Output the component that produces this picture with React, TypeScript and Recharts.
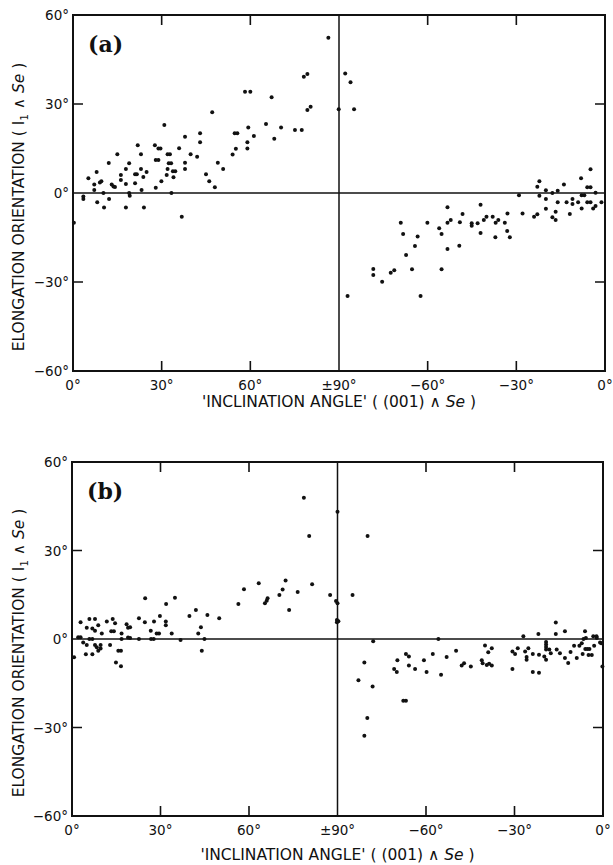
import React from 'react';
import { ScatterChart, Scatter, XAxis, YAxis, ReferenceLine, ReferenceArea } from 'recharts';

// [inclination angle (deg), elongation orientation (deg)]
// inclination runs 0..90 on the left half and -90..0 on the right half
const aLeft: [number, number][] = [
  [0.3, -10], [3.5, -1.2], [3.5, -2], [5.2, 5], [7.2, 2.9], [7.2, 1], [8, 7.1], [8.2, -3.1],
  [9.1, 3.5], [9.6, 4], [10.3, 0], [10.5, -4.9], [12.1, 10.1], [12.2, -2], [13.1, 2.9],
  [13.7, 2.2], [14.2, 2], [15, 13.1], [16.2, 4.4], [16.2, 6.1], [17.9, 8.1], [17.9, 3],
  [17.9, -4.9], [19, 10], [19, 0], [19.2, -0.9], [21, 3.3], [21, 6.3], [21.6, 6.3], [21.9, 16.1],
  [23, 13.1], [23, 8.1], [23.2, 1], [23.8, 5.4], [24, -4.9], [24.9, 7.1], [27.7, 16.1],
  [28, 11.1], [28.9, 11.1], [28.9, 15], [29.6, 15], [28, 1.8], [29.9, 4], [30.9, 22.9],
  [31.7, 6.1], [32, 8.1], [32, 13.1], [32.8, 13.1], [32.4, 10], [33.2, 10], [33.3, 0],
  [33.8, 7.3], [34.6, 7.3], [34, 5.3], [35.9, 15.1], [36.8, -8], [37.9, 10.2], [37.9, 8.1],
  [37.9, 19], [39.8, 13.1], [42, 12.2], [43, 20.1], [43, 17.1], [45, 6.3], [46.1, 4],
  [47.1, 27.2], [48, 1.9], [49, 10.2], [50.8, 8.1], [54, 13], [54.7, 20.1], [55.6, 20.1],
  [55.1, 14.9], [58.2, 34.1], [60, 34.1], [59, 17.1], [59, 15], [59.3, 22.1], [61.2, 19.2],
  [65.3, 23.3], [67.2, 32.3], [68.1, 18.3], [70.4, 22.1], [75.1, 21.2], [77.4, 21.2],
  [78.1, 39.2], [79.3, 40.1], [79.3, 28], [80.4, 29.1], [86.4, 52.3], [89.9, 28.2],
];

const aRight: [number, number][] = [
  [-87.9, 40.3], [-86.1, 37.3], [-84.9, 28.2], [-87.1, -34.7], [-78.4, -25.6], [-78.4, -27.6],
  [-75.4, -29.9], [-72.5, -26.9], [-71.3, -26], [-69.1, -10], [-68.3, -13.8], [-67.3, -20.9],
  [-65.3, -25.7], [-64.3, -17.9], [-63.4, -14.7], [-62.4, -34.7], [-60.1, -10], [-56.1, -11.9],
  [-55.3, -13.8], [-55.3, -25.7], [-53.3, -4.8], [-53.3, -10], [-52.2, -9.1], [-53.3, -18.9],
  [-49.1, -9.9], [-49.3, -17.8], [-48.2, -7.1], [-45.1, -10.2], [-45.1, -11], [-43.1, -10.2],
  [-42.1, -4], [-42.1, -13.5], [-41, -9.1], [-40.1, -8], [-38, -8], [-37, -10], [-36.1, -9.1],
  [-37.1, -14.9], [-33.9, -10], [-33.1, -12.8], [-33, -6.9], [-32.2, -14.9], [-29.1, -0.8],
  [-27.9, -6.9], [-24, -8], [-22.9, -7.2], [-22.9, 2.1], [-22.2, 4], [-22.2, -0.9], [-20, 0.9],
  [-20, -2], [-20, -5.3], [-17.8, 0], [-17.8, -8.2], [-16.7, -9.1], [-16.7, -6.3], [-16, 0.8],
  [-16, -3.1], [-13.9, 2.9], [-13, -3.1], [-11.9, -7.1], [-11, -2], [-11, -3.7], [-9.1, -3.1],
  [-8.1, 5], [-7.9, -0.8], [-7, -0.8], [-7.9, -5.2], [-6, 1.9], [-4.9, 1.9], [-6, -3.1],
  [-4.9, -3.1], [-4.9, 8], [-3.2, 0.1], [-4, -5.2], [-3.2, -4.4], [-1.2, -3.1],
];

const bLeft: [number, number][] = [
  [0.7, -6.2], [2.1, 0.6], [2.9, 0.6], [2.9, 5.7], [3.8, -1.2], [4.7, -5.2], [5, -2], [5, 3.8],
  [5.9, 6.8], [5.9, 0], [6.9, 0], [6.9, -5.2], [6.9, 3.6], [7.8, 6.8], [7.8, 2.8], [7.8, -2],
  [8.4, -2.8], [8.9, 4.7], [8.9, -4], [9.7, -3.2], [9.7, -2], [10.1, 1.9], [11.8, 5.9],
  [12.9, -2], [13.3, 2.6], [13.8, 6.8], [14.2, 2.6], [14.6, 5.3], [14.9, -8], [15.7, -4],
  [16.6, -4], [16.6, -9.2], [16.8, 1.9], [16.8, 0], [18.5, 5], [19, 3.8], [19.7, 4], [19, 0.5],
  [19.7, 0.3], [22.7, 7], [22.7, 0], [24.7, 5.7], [24.8, 13.8], [26.7, 2.8], [26.8, 0],
  [27.7, 0], [27.8, 5.9], [28.7, 1.9], [29.5, 1.9], [29.8, 7.8], [31.9, 11.9], [31.8, 5.9],
  [31.8, 4.7], [33.8, 1.9], [34.9, 14], [36.8, -0.3], [39.8, 7.8], [42, 9.8], [42.8, 1.9],
  [43.7, 4], [44, -4], [44.9, 0], [45.9, 8.1], [49.9, 7], [56.4, 11.9], [58.3, 16.9],
  [63.3, 18.9], [65.4, 12.1], [66, 13], [66.3, 13.8], [70.3, 14.9], [71.4, 16.8], [72.4, 19.8],
  [73.6, 9.8], [76.5, 15.9], [78.6, 47.9], [80.4, 34.9], [81.4, 18.6], [87.5, 14.9],
  [89.5, 12.9], [89.8, 6.4], [89.8, 5.7], [90, 43.1], [90, 12.1],
];

const bRight: [number, number][] = [
  [-89.7, 6], [-84.9, 14.9], [-79.8, 34.9], [-82.9, -14], [-80.9, -8], [-80.9, -32.8],
  [-79.9, -26.8], [-78.1, -16.1], [-77.9, -0.8], [-70.8, -10.2], [-69.9, -11.2], [-69.7, -7.2],
  [-67.7, -20.9], [-66.8, -20.9], [-66.8, -5.1], [-65.8, -5.9], [-65.8, -9], [-63.7, -10.2],
  [-60.7, -7.2], [-59.8, -11.2], [-57.7, -5.1], [-55.8, 0], [-54.9, -12.1], [-53, -6.1],
  [-49.8, -4], [-47.9, -9], [-47.1, -8.2], [-44.8, -9.3], [-41.1, -7.2], [-40.8, -8.2],
  [-40, -2.2], [-39.4, -8.8], [-38.6, -8.4], [-37.7, -9], [-38.9, -4.5], [-37.7, -3.1],
  [-30.7, -4.2], [-29.8, -5.1], [-30.7, -10.2], [-28.9, -3.1], [-27, 0.9], [-26.4, -4.2],
  [-25.9, -6.1], [-25.9, -7], [-25.3, -3.1], [-23.8, -5.1], [-23.8, -11.2], [-21.7, -11.4],
  [-21.9, 1.7], [-21.7, -5.3], [-19.9, -5.9], [-19.3, -7], [-19.3, -1], [-19.3, -1.9],
  [-19.3, -2.7], [-19.3, -3.6], [-18.2, -3.6], [-17.7, -4.8], [-16, 5.6], [-16, 1.7],
  [-15.7, -3.6], [-14.6, -4.8], [-12.9, -6.4], [-12.9, 2.6], [-11.8, -8.1], [-11, -4.4],
  [-9.8, -2.3], [-8.9, -6.4], [-8, -2.3], [-7.2, -1.4], [-6.9, -5.1], [-6.1, 2.6], [-6.6, 0],
  [-5.8, 0.3], [-6, -3.4], [-5.3, -3.4], [-4.6, -3.4], [-4.9, -5.4], [-3.8, -5.4], [-3.3, 0.9],
  [-2.2, 0.9], [-2.1, 0.3], [-3, -2.3], [-1, -1.2], [-0.6, -1.4], [-0.2, -9.3],
];

const X_DOMAIN: [number, number] = [0, 180];
const Y_DOMAIN: [number, number] = [-60, 60];
const X_TICKS = [0, 30, 60, 90, 120, 150, 180];
const X_LABELS = ['0°', '30°', '60°', '±90°', '−60°', '−30°', '0°'];
const Y_TICKS = [-60, -30, 0, 30, 60];
const Y_LABELS = ['−60°', '−30°', '0°', '30°', '60°'];
const INNER_X = [30, 60, 120, 150];
const INNER_Y = [-30, 30];

const FONT = 'DejaVu Sans, sans-serif';
const INK = '#111';

// left half keeps its angle, right half (negative angles) is shifted onto 90..180
const toAxis = (a: number) => (a >= 0 ? a : 180 + a);

const Dot = (p: any) => <circle cx={p.cx} cy={p.cy} r={2} fill={INK} />;

const BottomTick = ({ x, y, payload }: any) => (
  <text x={x} y={y + 19} textAnchor="middle" fontFamily={FONT} fontSize={13.5} fill={INK}>
    {X_LABELS[X_TICKS.indexOf(payload.value)]}
  </text>
);

const LeftTick = ({ x, y, payload }: any) => (
  <text x={x - 4} y={y + 5} textAnchor="end" fontFamily={FONT} fontSize={13.5} fill={INK}>
    {Y_LABELS[Y_TICKS.indexOf(payload.value)]}
  </text>
);

// plot frame with the short inward tick marks on all four sides
const Frame = (props: any) => {
  const { x, y, width, height } = props;
  const fx = (v: number) => x + ((v - X_DOMAIN[0]) / (X_DOMAIN[1] - X_DOMAIN[0])) * width;
  const fy = (v: number) => y + ((Y_DOMAIN[1] - v) / (Y_DOMAIN[1] - Y_DOMAIN[0])) * height;
  let d = '';
  INNER_X.forEach((v) => {
    d += `M${fx(v)},${y + height}v-10M${fx(v)},${y}v10`;
  });
  INNER_Y.forEach((v) => {
    d += `M${x},${fy(v)}h10M${x + width},${fy(v)}h-10`;
  });
  return (
    <g>
      <rect x={x} y={y} width={width} height={height} fill="none" stroke={INK} strokeWidth={2} />
      <path d={d} fill="none" stroke={INK} strokeWidth={1.6} />
    </g>
  );
};

const YTitle = (cy: number) => () => {
  const cx = 24;
  return (
    <text
      x={cx}
      y={cy}
      transform={`rotate(-90 ${cx} ${cy})`}
      textAnchor="middle"
      fontFamily={FONT}
      fontSize={15.5}
      fill={INK}
    >
      ELONGATION ORIENTATION ( I
      <tspan fontSize={10} dy={4}>1</tspan>
      <tspan dy={-4}> ∧ </tspan>
      <tspan fontStyle="italic">Se</tspan> )
    </text>
  );
};

const XTitle = (cx: number, y: number) => () => (
  <text x={cx} y={y} textAnchor="middle" fontFamily={FONT} fontSize={15.5} fill={INK}>
    'INCLINATION ANGLE' ( (001) ∧ <tspan fontStyle="italic">Se</tspan> )
  </text>
);

const Tag = (text: string, x: number, y: number) => () => (
  <text x={x} y={y} fontFamily="DejaVu Serif, serif" fontWeight="bold" fontSize={22} fill={INK}>
    {text}
  </text>
);

interface PanelProps {
  left: [number, number][];
  right: [number, number][];
  tag: string;
  top: number;
  height: number;
  yWidth: number;
  marginRight: number;
  titleDy: number;
}

const Panel = ({ left, right, tag, top, height, yWidth, marginRight, titleDy }: PanelProps) => {
  const data = [...left, ...right].map(([incl, orient]) => ({ x: toAxis(incl), y: orient }));
  const plotTop = 15;
  const plotBottom = height - 50;
  const plotMidY = (plotTop + plotBottom) / 2;
  const plotMidX = (yWidth + 613 - marginRight) / 2;
  return (
    <div style={{ position: 'absolute', left: 0, top, width: 613, height }}>
      <ScatterChart width={613} height={height} margin={{ top: plotTop, right: marginRight, left: 0, bottom: 0 }}>
        <XAxis
          type="number"
          dataKey="x"
          domain={X_DOMAIN}
          ticks={X_TICKS}
          interval={0}
          height={50}
          tickSize={0}
          tickMargin={0}
          tickLine={false}
          axisLine={false}
          tick={BottomTick}
          label={XTitle(plotMidX, plotBottom + titleDy)}
        />
        <YAxis
          type="number"
          dataKey="y"
          domain={Y_DOMAIN}
          ticks={Y_TICKS}
          interval={0}
          width={yWidth}
          tickSize={0}
          tickMargin={0}
          tickLine={false}
          axisLine={false}
          tick={LeftTick}
          label={YTitle(plotMidY + 14)}
        />
        <ReferenceArea
          x1={X_DOMAIN[0]}
          x2={X_DOMAIN[1]}
          y1={Y_DOMAIN[0]}
          y2={Y_DOMAIN[1]}
          shape={Frame}
          label={Tag(tag, yWidth + 15, plotTop + 37)}
        />
        <ReferenceLine y={0} stroke={INK} strokeWidth={1.5} />
        <ReferenceLine x={90} stroke={INK} strokeWidth={1.5} />
        <Scatter data={data} shape={Dot} isAnimationActive={false} />
      </ScatterChart>
    </div>
  );
};

export default function App() {
  return (
    <div style={{ position: 'absolute', left: 0, top: 0, width: 613, height: 865, background: '#fff' }}>
      <Panel left={aLeft} right={aRight} tag="(a)" top={0} height={421} yWidth={73} marginRight={8} titleDy={36} />
      <Panel left={bLeft} right={bRight} tag="(b)" top={447} height={419} yWidth={72} marginRight={10} titleDy={44} />
    </div>
  );
}
